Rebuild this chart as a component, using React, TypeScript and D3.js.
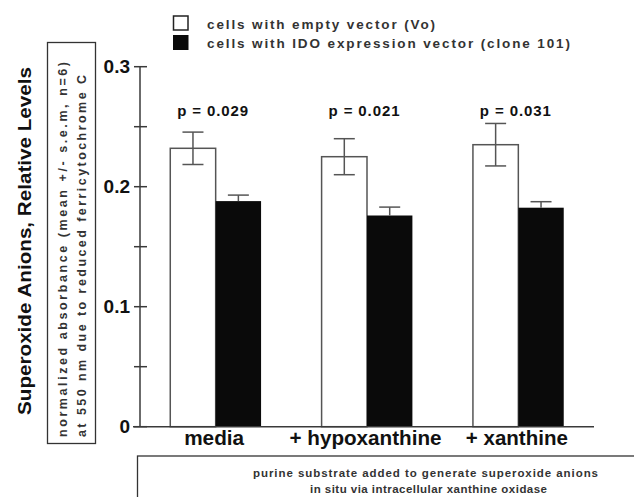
import React from "react";
import * as d3 from "d3";

const categories = ["media", "+ hypoxanthine", "+ xanthine"];
const seriesNames = ["cells with empty vector (Vo)", "cells with IDO expression vector (clone 101)"];
const vectorMeans = [0.232, 0.225, 0.235];
const vectorSem = [0.0135, 0.015, 0.0177];
const idoMeans = [0.188, 0.176, 0.1825];
const idoSem = [0.005, 0.007, 0.005];
const pLabels = ["p = 0.029", "p = 0.021", "p = 0.031"];
const majorTicks = [0, 0.1, 0.2, 0.3];
const minorTicks = [0.05, 0.15, 0.25];
const labelWidths = [60, 152, 102];

const FONT = "'Liberation Sans', Arial, sans-serif";
const AXIS = "#3a3a3a";

export default function App() {
  const width = 634;
  const height = 497;

  const x = d3.scaleBand().domain(categories).range([140, 594]).paddingInner(0.4).paddingOuter(0.2);
  const y = d3.scaleLinear().domain([0, 0.3]).range([426.7, 66.7]);
  const bw = x.bandwidth() / 2;

  return (
    <svg width={width} height={height} style={{ position: "absolute", left: 0, top: 0, background: "#fff" }}>
      {/* legend */}
      <rect x={173.5} y={16} width={14.5} height={14} fill="#fff" stroke="#222" strokeWidth={1.5} />
      <rect x={173} y={35} width={15.5} height={15} fill="#0a0a0a" />
      <text x={207} y={29} fontFamily={FONT} fontWeight="bold" fontSize={13.5} fill="#333" textLength={228} lengthAdjust="spacing">
        {seriesNames[0]}
      </text>
      <text x={207} y={47.5} fontFamily={FONT} fontWeight="bold" fontSize={13.5} fill="#333" textLength={363} lengthAdjust="spacing">
        {seriesNames[1]}
      </text>

      {/* y title */}
      <text transform="translate(24,241) rotate(-90)" textAnchor="middle" dominantBaseline="central"
        fontFamily={FONT} fontWeight="bold" fontSize={18.5} fill="#111" textLength={348} lengthAdjust="spacingAndGlyphs">
        Superoxide Anions, Relative Levels
      </text>

      {/* boxed y subtitle */}
      <rect x={47.5} y={42.5} width={48} height={401} fill="none" stroke="#333" strokeWidth={1.3} />
      <text transform="translate(63,437) rotate(-90)" dominantBaseline="central"
        fontFamily={FONT} fontWeight="bold" fontSize={12.5} fill="#333" textLength={375} lengthAdjust="spacing">
        normalized absorbance (mean +/- s.e.m, n=6)
      </text>
      <text transform="translate(82,437) rotate(-90)" dominantBaseline="central"
        fontFamily={FONT} fontWeight="bold" fontSize={12.5} fill="#333" textLength={362} lengthAdjust="spacing">
        at 550 nm due to reduced ferricytochrome C
      </text>

      {/* y axis */}
      <line x1={140} x2={140} y1={y(0.3)} y2={y(0)} stroke={AXIS} strokeWidth={1.5} />
      {[...majorTicks, ...minorTicks].map((t) => (
        <line key={t} x1={134} x2={147} y1={y(t)} y2={y(t)} stroke={AXIS} strokeWidth={1.5} />
      ))}
      {majorTicks.map((t) => (
        <text key={t} x={130} y={y(t)} textAnchor="end" dominantBaseline="central"
          fontFamily={FONT} fontWeight="bold" fontSize={19} fill="#111">
          {t === 0 ? "0" : d3.format(".1f")(t)}
        </text>
      ))}

      {/* bars */}
      {categories.map((c, i) => {
        const x0 = x(c)!;
        const cw = x0 + bw / 2;
        const cb = x0 + bw + bw / 2;
        return (
          <g key={c}>
            <rect x={x0} y={y(vectorMeans[i])} width={bw} height={y(0) - y(vectorMeans[i])}
              fill="#fff" stroke="#555" strokeWidth={1.5} />
            <rect x={x0 + bw} y={y(idoMeans[i])} width={bw} height={y(0) - y(idoMeans[i])} fill="#0a0a0a" />
            {/* error bars */}
            <line x1={cw} x2={cw} y1={y(vectorMeans[i] + vectorSem[i])} y2={y(vectorMeans[i] - vectorSem[i])} stroke="#555" strokeWidth={1.5} />
            <line x1={cw - 10.5} x2={cw + 10.5} y1={y(vectorMeans[i] + vectorSem[i])} y2={y(vectorMeans[i] + vectorSem[i])} stroke="#555" strokeWidth={1.5} />
            <line x1={cw - 10.5} x2={cw + 10.5} y1={y(vectorMeans[i] - vectorSem[i])} y2={y(vectorMeans[i] - vectorSem[i])} stroke="#555" strokeWidth={1.5} />
            <line x1={cb} x2={cb} y1={y(idoMeans[i] + idoSem[i])} y2={y(idoMeans[i])} stroke="#555" strokeWidth={1.5} />
            <line x1={cb - 10.5} x2={cb + 10.5} y1={y(idoMeans[i] + idoSem[i])} y2={y(idoMeans[i] + idoSem[i])} stroke="#555" strokeWidth={1.5} />
            <text x={x0 + bw - 3} y={115.5} textAnchor="middle" fontFamily={FONT} fontWeight="bold" fontSize={15}
              fill="#111" textLength={71} lengthAdjust="spacing">
              {pLabels[i]}
            </text>
            <text x={x0 + bw - 1.5} y={445} textAnchor="middle" fontFamily={FONT} fontWeight="bold" fontSize={21} fill="#111"
              textLength={labelWidths[i]} lengthAdjust="spacingAndGlyphs">
              {c}
            </text>
          </g>
        );
      })}

      {/* x baseline */}
      <line x1={133} x2={594} y1={y(0)} y2={y(0)} stroke={AXIS} strokeWidth={1.5} />

      {/* x caption box */}
      <rect x={137.5} y={456} width={520} height={60} fill="none" stroke="#333" strokeWidth={1.3} />
      <text x={253} y={477} fontFamily={FONT} fontWeight="bold" fontSize={11.5} fill="#333"
        textLength={345} lengthAdjust="spacing">
        purine substrate added to generate superoxide anions
      </text>
      <text x={310} y={492.5} fontFamily={FONT} fontWeight="bold" fontSize={11.5} fill="#333"
        textLength={237} lengthAdjust="spacing">
        in situ via intracellular xanthine oxidase
      </text>
    </svg>
  );
}
